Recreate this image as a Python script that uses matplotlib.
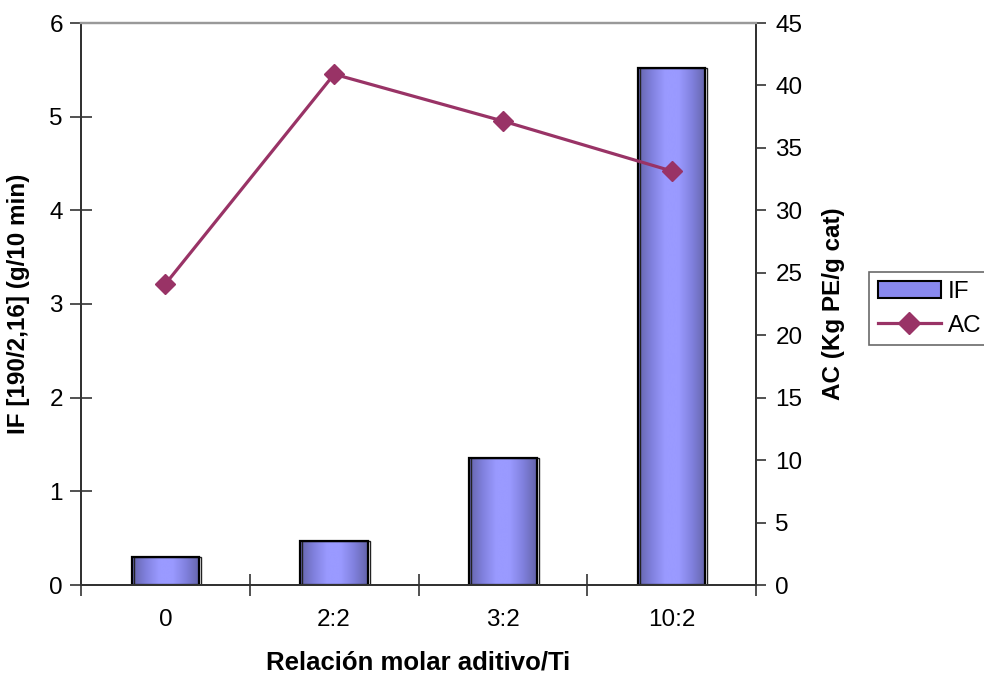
import numpy as np
import matplotlib
matplotlib.use("Agg")
import matplotlib.pyplot as plt
from matplotlib.colors import LinearSegmentedColormap
from matplotlib.patches import Rectangle
from matplotlib.lines import Line2D

plt.rcParams['font.family'] = ['Liberation Sans', 'DejaVu Sans']

categories = ["0", "2:2", "3:2", "10:2"]
if_values = [0.30, 0.47, 1.36, 5.52]
ac_values = [24.1, 40.9, 37.15, 33.15]

bar_color_edge = "#6464AA"
bar_color_mid = "#9A9AFF"
line_color = "#993366"

fig = plt.figure(figsize=(9.84, 6.73), dpi=100)
ax = fig.add_axes([81/984, 88/673, 675/984, 562/673])
ax2 = ax.twinx()

x = np.arange(len(categories))
width = 0.4
cmap = LinearSegmentedColormap.from_list(
    "cyl", [bar_color_edge, "#8080DD", bar_color_mid, bar_color_mid, "#8080DD", bar_color_edge])
grad = np.linspace(0, 1, 256).reshape(1, -1)

bars = ax.bar(x, if_values, width=width, color="none", edgecolor="none", zorder=2)
for b in bars:
    x0, y0 = b.get_x(), b.get_y()
    w, h = b.get_width(), b.get_height()
    ax.imshow(grad, cmap=cmap, aspect="auto", extent=(x0, x0 + w, y0, y0 + h),
              zorder=2, interpolation="bicubic")
    # thin shadow on the right side
    ax.add_patch(Rectangle((x0 + 0.012, y0), w, h, fill=False, edgecolor="#222222",
                           linewidth=1.0, zorder=2.5))
    ax.add_patch(Rectangle((x0, y0), w, h, fill=False, edgecolor="black",
                           linewidth=1.6, zorder=3))

ax.set_xlim(-0.5, len(categories) - 0.5)
ax.set_ylim(0, 6)
ax.set_yticks(range(0, 7))
ax.set_xticks(x)
ax.set_xticklabels(categories)
ax.set_xticks(np.arange(-0.5, len(categories), 1.0), minor=True)
ax.tick_params(axis="x", which="major", length=0, labelsize=17.5, pad=17)
ax.tick_params(axis="x", which="minor", direction="inout", length=16, width=1.2, color="#333333")
ax.tick_params(axis="y", direction="inout", length=16, width=1.2, labelsize=17.5, pad=5,
               color="#333333")

ax2.plot(x, ac_values, color=line_color, linewidth=2.3, marker="D", markersize=10,
         markerfacecolor=line_color, markeredgecolor=line_color, zorder=5)
ax2.set_ylim(0, 45)
ax2.set_yticks(range(0, 46, 5))
ax2.tick_params(axis="y", direction="out", length=7, width=1.2, labelsize=17.5, pad=7,
                color="#333333")

for a in (ax, ax2):
    for side in ("left", "right", "bottom"):
        a.spines[side].set_color("#333333")
        a.spines[side].set_linewidth(1.4)
    a.spines["top"].set_color("#999999")
    a.spines["top"].set_linewidth(1.6)
ax.set_zorder(1)
ax2.set_zorder(2)
ax2.patch.set_visible(False)

ax.set_xlabel("Relación molar aditivo/Ti", fontsize=18.5, fontweight="bold", labelpad=14)
ax.set_ylabel("IF [190/2,16] (g/10 min)", fontsize=17.5, fontweight="bold", labelpad=14)
ax2.set_ylabel("AC (Kg PE/g cat)", fontsize=17.5, fontweight="bold", labelpad=14)

handles = [Rectangle((0, 0), 1, 1, facecolor="#8888EE", edgecolor="black", linewidth=1.5),
           Line2D([0], [0], color=line_color, linewidth=2.3, marker="D", markersize=11)]
leg = fig.legend(handles, ["IF", "AC"], loc="upper left",
                 bbox_to_anchor=(869/984, 1 - 272/673), fontsize=17.5, frameon=True,
                 fancybox=False, edgecolor="#444444", borderpad=0.35, handlelength=2.6,
                 handletextpad=0.3, labelspacing=0.5, borderaxespad=0)
leg.get_frame().set_linewidth(1.2)

fig.savefig("out.png", dpi=100)
